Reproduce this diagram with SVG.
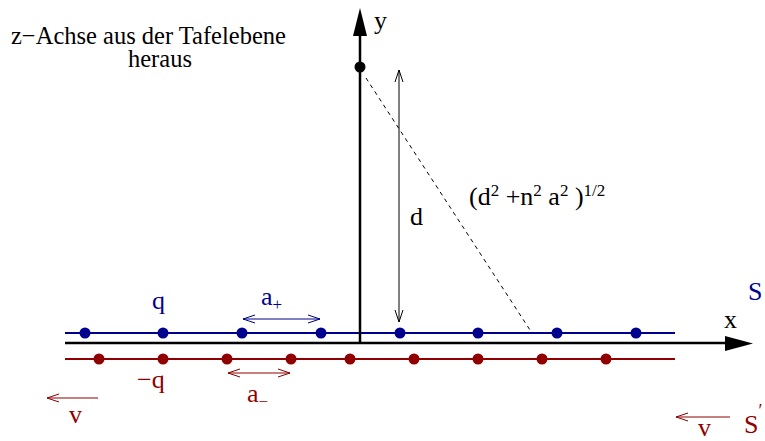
<svg xmlns="http://www.w3.org/2000/svg" width="765" height="441" viewBox="0 0 765 441">
<defs>
<marker id="oaK" markerUnits="userSpaceOnUse" viewBox="0 0 13 10" refX="12" refY="5" markerWidth="13" markerHeight="10" orient="auto-start-reverse"><path d="M0,1 L12,5 L0,9" fill="none" stroke="#000" stroke-width="1"/></marker>
<marker id="oaB" markerUnits="userSpaceOnUse" viewBox="0 0 13 10" refX="12" refY="5" markerWidth="13" markerHeight="10" orient="auto-start-reverse"><path d="M0,1 L12,5 L0,9" fill="none" stroke="#00008f" stroke-width="1"/></marker>
<marker id="oaR" markerUnits="userSpaceOnUse" viewBox="0 0 13 10" refX="12" refY="5" markerWidth="13" markerHeight="10" orient="auto-start-reverse"><path d="M0,1 L12,5 L0,9" fill="none" stroke="#8f0000" stroke-width="1"/></marker>
</defs>

<g id="title">
<text x="11" y="44" font-family="Liberation Serif" font-size="24.5">z−Achse aus der Tafelebene</text>
<text x="128" y="67" font-family="Liberation Serif" font-size="24.5">heraus</text>
</g>

<g id="connectors">
<line stroke="#00008f" stroke-width="2" x1="65" y1="333" x2="675" y2="333"/>
<line stroke="#8f0000" stroke-width="2" x1="65" y1="359" x2="675" y2="359"/>
<line stroke="#000" stroke-width="2.5" x1="65" y1="343" x2="727" y2="343"/>
<polygon points="725,336 753,343.5 725,351" fill="#000"/>
<line stroke="#000" stroke-width="2.5" x1="360" y1="344" x2="360" y2="34"/>
<polygon points="353,36 360,8 367,36" fill="#000"/>
<line x1="366" y1="78" x2="530" y2="330" stroke="#000" stroke-width="1" stroke-dasharray="4,4"/>
<line x1="399" y1="70" x2="399" y2="322" stroke="#000" stroke-width="1" marker-start="url(#oaK)" marker-end="url(#oaK)"/>
<line x1="243" y1="319" x2="320" y2="319" stroke="#00008f" stroke-width="1" marker-start="url(#oaB)" marker-end="url(#oaB)"/>
<line x1="228" y1="373" x2="290" y2="373" stroke="#8f0000" stroke-width="1" marker-start="url(#oaR)" marker-end="url(#oaR)"/>
<line x1="98" y1="398" x2="47" y2="398" stroke="#8f0000" stroke-width="1" marker-end="url(#oaR)"/>
<line x1="730" y1="417" x2="676" y2="417" stroke="#8f0000" stroke-width="1" marker-end="url(#oaR)"/>
</g>

<g id="point">
<circle cx="360" cy="67" r="5.5" fill="#000"/>
</g>

<g id="positive-charges" fill="#00008f">
<circle cx="85" cy="333" r="5.5"/>
<circle cx="163" cy="333" r="5.5"/>
<circle cx="242" cy="333" r="5.5"/>
<circle cx="321" cy="333" r="5.5"/>
<circle cx="400" cy="333" r="5.5"/>
<circle cx="478" cy="333" r="5.5"/>
<circle cx="557" cy="333" r="5.5"/>
<circle cx="636" cy="333" r="5.5"/>
</g>

<g id="negative-charges" fill="#8f0000">
<circle cx="99" cy="359" r="5.5"/>
<circle cx="163" cy="359" r="5.5"/>
<circle cx="227" cy="359" r="5.5"/>
<circle cx="291" cy="359" r="5.5"/>
<circle cx="350" cy="359" r="5.5"/>
<circle cx="414" cy="359" r="5.5"/>
<circle cx="478" cy="359" r="5.5"/>
<circle cx="542" cy="359" r="5.5"/>
<circle cx="606" cy="359" r="5.5"/>
</g>

<g id="labels">
<text x="374" y="29" font-family="Liberation Serif" font-size="26">y</text>
<text x="724" y="328" font-family="Liberation Serif" font-size="26">x</text>
<text x="410" y="225" font-family="Liberation Serif" font-size="26">d</text>
<text x="469" y="205" font-family="Liberation Serif" font-size="26">(d<tspan font-size="17" dy="-9">2</tspan><tspan dy="9"> +n</tspan><tspan font-size="17" dy="-9">2</tspan><tspan dy="9"> a</tspan><tspan font-size="17" dy="-9">2</tspan><tspan dy="9"> )</tspan><tspan font-size="17" dy="-9">1/2</tspan></text>
<text fill="#00008f" x="748" y="300" font-family="Liberation Serif" font-size="26">S</text>
<text fill="#00008f" x="152" y="309" font-family="Liberation Serif" font-size="26">q</text>
<text fill="#00008f" x="261" y="305" font-family="Liberation Serif" font-size="26">a<tspan font-size="17" dy="5">+</tspan></text>
<text fill="#8f0000" x="137" y="388" font-family="Liberation Serif" font-size="26">−q</text>
<text fill="#8f0000" x="247" y="402" font-family="Liberation Serif" font-size="26">a<tspan font-size="17" dy="5">−</tspan></text>
<text fill="#8f0000" x="69" y="423" font-family="Liberation Serif" font-size="26">v</text>
<text fill="#8f0000" x="698" y="436" font-family="Liberation Serif" font-size="26">v</text>
<text fill="#8f0000" x="744" y="433" font-family="Liberation Serif" font-size="26">S<tspan font-size="18" dy="-16">′</tspan></text>
</g>
</svg>
